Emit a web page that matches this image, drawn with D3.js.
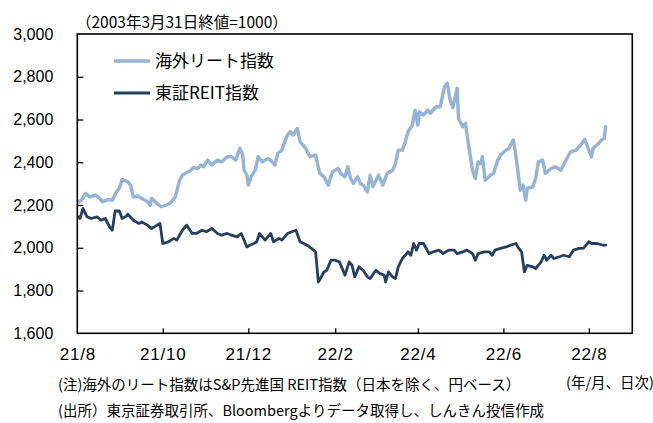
<!DOCTYPE html>
<html><head><meta charset="utf-8">
<script src="https://cdn.jsdelivr.net/npm/d3@7"></script>
<style>
body{margin:0;background:#fff;}
svg{display:block;font-family:"Liberation Sans",Arial,sans-serif;}
.jp{font-family:"Noto Sans CJK JP","Liberation Sans",sans-serif;}
</style></head><body>
<svg id="c" width="653" height="423"></svg>
<script>
// ---- data ----
const overseasDates = ["2021-08-02","2021-08-04","2021-08-07","2021-08-10","2021-08-14","2021-08-17","2021-08-19","2021-08-23","2021-08-26","2021-08-29","2021-08-31","2021-09-02","2021-09-06","2021-09-08","2021-09-10","2021-09-13","2021-09-16","2021-09-20","2021-09-22","2021-09-23","2021-09-27","2021-09-30","2021-10-03","2021-10-06","2021-10-10","2021-10-13","2021-10-15","2021-10-19","2021-10-21","2021-10-23","2021-10-26","2021-10-28","2021-10-30","2021-11-02","2021-11-05","2021-11-09","2021-11-12","2021-11-16","2021-11-19","2021-11-22","2021-11-25","2021-11-27","2021-11-28","2021-11-30","2021-12-01","2021-12-03","2021-12-06","2021-12-08","2021-12-11","2021-12-13","2021-12-15","2021-12-18","2021-12-20","2021-12-22","2021-12-25","2021-12-27","2021-12-29","2021-12-31","2022-01-02","2022-01-05","2022-01-07","2022-01-11","2022-01-14","2022-01-18","2022-01-21","2022-01-24","2022-01-27","2022-01-30","2022-02-03","2022-02-05","2022-02-08","2022-02-10","2022-02-12","2022-02-14","2022-02-17","2022-02-19","2022-02-21","2022-02-24","2022-02-26","2022-02-28","2022-03-04","2022-03-07","2022-03-10","2022-03-14","2022-03-16","2022-03-18","2022-03-21","2022-03-23","2022-03-25","2022-03-28","2022-03-30","2022-04-01","2022-04-02","2022-04-05","2022-04-08","2022-04-10","2022-04-14","2022-04-17","2022-04-20","2022-04-22","2022-04-24","2022-04-26","2022-04-29","2022-04-30","2022-05-03","2022-05-05","2022-05-07","2022-05-10","2022-05-12","2022-05-14","2022-05-16","2022-05-17","2022-05-19","2022-05-23","2022-05-25","2022-05-28","2022-05-30","2022-06-03","2022-06-05","2022-06-08","2022-06-09","2022-06-11","2022-06-13","2022-06-15","2022-06-17","2022-06-18","2022-06-22","2022-06-24","2022-06-26","2022-06-29","2022-07-01","2022-07-05","2022-07-08","2022-07-12","2022-07-15","2022-07-19","2022-07-23","2022-07-26","2022-07-29","2022-08-01","2022-08-03","2022-08-04","2022-08-08","2022-08-10","2022-08-12","2022-08-13"];
const overseasValues = [2215,2223,2254,2238,2246,2231,2215,2226,2223,2262,2278,2320,2309,2293,2238,2242,2231,2215,2199,2231,2207,2192,2199,2207,2238,2316,2340,2355,2363,2375,2371,2387,2379,2410,2387,2410,2402,2426,2426,2410,2465,2434,2363,2340,2293,2332,2363,2426,2402,2410,2418,2402,2387,2441,2457,2496,2527,2543,2527,2558,2496,2465,2426,2434,2348,2332,2293,2355,2371,2348,2332,2379,2324,2301,2332,2301,2293,2262,2340,2285,2340,2293,2348,2363,2394,2457,2457,2496,2543,2574,2644,2574,2636,2621,2644,2629,2660,2660,2753,2769,2691,2656,2746,2605,2566,2582,2488,2363,2324,2402,2394,2426,2316,2340,2348,2410,2434,2457,2465,2504,2473,2379,2270,2293,2223,2278,2285,2324,2402,2410,2348,2371,2379,2363,2402,2449,2457,2480,2507,2457,2426,2465,2488,2504,2512,2566];

const tseDates = ["2021-08-02","2021-08-03","2021-08-05","2021-08-08","2021-08-11","2021-08-15","2021-08-18","2021-08-21","2021-08-24","2021-08-26","2021-08-28","2021-08-31","2021-09-02","2021-09-05","2021-09-06","2021-09-10","2021-09-14","2021-09-16","2021-09-20","2021-09-23","2021-09-27","2021-09-29","2021-10-01","2021-10-05","2021-10-09","2021-10-11","2021-10-15","2021-10-18","2021-10-22","2021-10-25","2021-10-29","2021-11-01","2021-11-05","2021-11-09","2021-11-12","2021-11-16","2021-11-19","2021-11-23","2021-11-26","2021-11-30","2021-12-02","2021-12-05","2021-12-07","2021-12-09","2021-12-13","2021-12-17","2021-12-19","2021-12-23","2021-12-25","2021-12-29","2022-01-01","2022-01-04","2022-01-07","2022-01-12","2022-01-15","2022-01-18","2022-01-20","2022-01-24","2022-01-26","2022-01-29","2022-02-01","2022-02-04","2022-02-08","2022-02-11","2022-02-13","2022-02-15","2022-02-18","2022-02-21","2022-02-24","2022-02-26","2022-03-02","2022-03-05","2022-03-08","2022-03-09","2022-03-11","2022-03-14","2022-03-16","2022-03-18","2022-03-21","2022-03-23","2022-03-25","2022-03-27","2022-03-29","2022-03-31","2022-04-02","2022-04-05","2022-04-09","2022-04-12","2022-04-16","2022-04-19","2022-04-23","2022-04-27","2022-04-29","2022-05-03","2022-05-06","2022-05-10","2022-05-12","2022-05-14","2022-05-18","2022-05-22","2022-05-24","2022-05-26","2022-05-30","2022-06-03","2022-06-06","2022-06-10","2022-06-12","2022-06-14","2022-06-16","2022-06-18","2022-06-22","2022-06-24","2022-06-28","2022-06-30","2022-07-02","2022-07-05","2022-07-07","2022-07-11","2022-07-14","2022-07-18","2022-07-21","2022-07-25","2022-07-28","2022-08-01","2022-08-03","2022-08-07","2022-08-11","2022-08-13"];
const tseValues = [2145,2137,2184,2145,2137,2145,2129,2137,2098,2082,2172,2172,2137,2148,2157,2129,2114,2121,2106,2090,2106,2114,2020,2028,2044,2036,2082,2106,2067,2067,2082,2075,2090,2067,2059,2067,2059,2051,2067,2004,2012,2020,2028,2067,2036,2067,2028,2044,2036,2067,2075,2082,2028,2012,1997,1981,1840,1887,1895,1942,1942,1934,1872,1934,1918,1864,1911,1895,1864,1856,1895,1879,1872,1840,1887,1864,1856,1911,1950,1965,1981,1965,2020,1989,2020,2020,1973,1981,1989,1973,1989,1989,1973,1981,1989,1973,1942,1973,1981,1981,1965,1989,1997,2004,2012,2020,1997,1981,1887,1918,1911,1903,1934,1965,1942,1965,1950,1958,1965,1958,1989,1997,1997,2028,2020,2020,2012,2012];

const seriesNames = ["海外リート指数","東証REIT指数"];
const xTickDates = ["2021-08-01","2021-10-01","2021-12-01","2022-02-01","2022-04-01","2022-06-01","2022-08-01"];
const xTickLabels = ["21/8","21/10","21/12","22/2","22/4","22/6","22/8"];
const yTicks = [1600,1800,2000,2200,2400,2600,2800,3000];
const xDomain = ["2021-08-01","2022-09-01"];
const yDomain = [1600,3000];

// ---- chart ----
const parse = d3.timeParse("%Y-%m-%d");
const svg = d3.select("#c");
const L=77.3, R=632.3, T=34, B=333.3;
const x = d3.scaleTime().domain(xDomain.map(parse)).range([L,R]);
const y = d3.scaleLinear().domain(yDomain).range([B,T]);
const colors = ["#95B3D7","#243F60"];
const widths = [3.4,2.8];

// lines
const line = d3.line().x(d=>x(d[0])).y(d=>y(d[1]));
const series = [
  d3.zip(overseasDates.map(parse), overseasValues),
  d3.zip(tseDates.map(parse), tseValues)
];
series.forEach((s,i)=>{
  svg.append("path").datum(s).attr("d",line)
    .attr("fill","none").attr("stroke",colors[i]).attr("stroke-width",widths[i])
    .attr("stroke-linejoin","round").attr("stroke-linecap","round");
});

// axes
const yAxis = d3.axisLeft(y).tickValues(yTicks).tickSize(-6).tickPadding(24).tickFormat(d3.format(","));
const gy = svg.append("g").attr("transform",`translate(${L},0)`).call(yAxis);
const labelMap = new Map(xTickDates.map((d,i)=>[+parse(d), xTickLabels[i]]));
const xAxis = d3.axisBottom(x).tickValues(xTickDates.map(parse)).tickSize(-5).tickPadding(15)
  .tickFormat(d=>labelMap.get(+d));
const gx = svg.append("g").attr("transform",`translate(0,${B})`).call(xAxis);
[gx,gy].forEach(g=>{
  g.select(".domain").remove();
  g.selectAll(".tick line").attr("stroke","#000").attr("stroke-width",1.3);
  g.selectAll(".tick text").attr("fill","#000").style("font-size","16px")
    .style("font-family","'Liberation Sans',Arial,sans-serif");
});
gx.selectAll(".tick text").style("font-size","17px").style("letter-spacing","0.8px");
// hide tick mark at frame edges
gy.selectAll(".tick line").filter(d=>d===yDomain[0]||d===yDomain[1]).remove();
gx.selectAll(".tick line").filter((d,i)=>i===0).remove();

// frame
svg.append("rect").attr("x",L).attr("y",T).attr("width",R-L).attr("height",B-T)
  .attr("fill","none").attr("stroke","#000").attr("stroke-width",1.6);

// legend
const lg = svg.append("g");
seriesNames.forEach((n,i)=>{
  const yy = 61 + i*32;
  lg.append("line").attr("x1",114).attr("x2",150).attr("y1",yy).attr("y2",yy)
    .attr("stroke",colors[i]).attr("stroke-width",widths[i]);
  lg.append("text").attr("class","jp").attr("x",155).attr("y",yy).attr("dy","0.36em")
    .style("font-size","17px").attr("fill","#000").text(n);
});

// texts
svg.append("text").attr("class","jp").attr("x",76).attr("y",23).attr("dy","0.35em")
  .style("font-size","15.5px").text("（2003年3月31日終値=1000）");
svg.append("text").attr("class","jp").attr("x",58).attr("y",385).attr("dy","0.35em")
  .style("font-size","14.5px").text("(注)海外のリート指数はS&P先進国 REIT指数（日本を除く、円ベース）");
svg.append("text").attr("class","jp").attr("x",566).attr("y",383).attr("dy","0.35em")
  .style("font-size","14.5px").text("(年/月、日次)");
svg.append("text").attr("class","jp").attr("x",58).attr("y",411).attr("dy","0.35em")
  .style("font-size","14.5px").text("(出所）東京証券取引所、Bloombergよりデータ取得し、しんきん投信作成");
</script></body></html>
